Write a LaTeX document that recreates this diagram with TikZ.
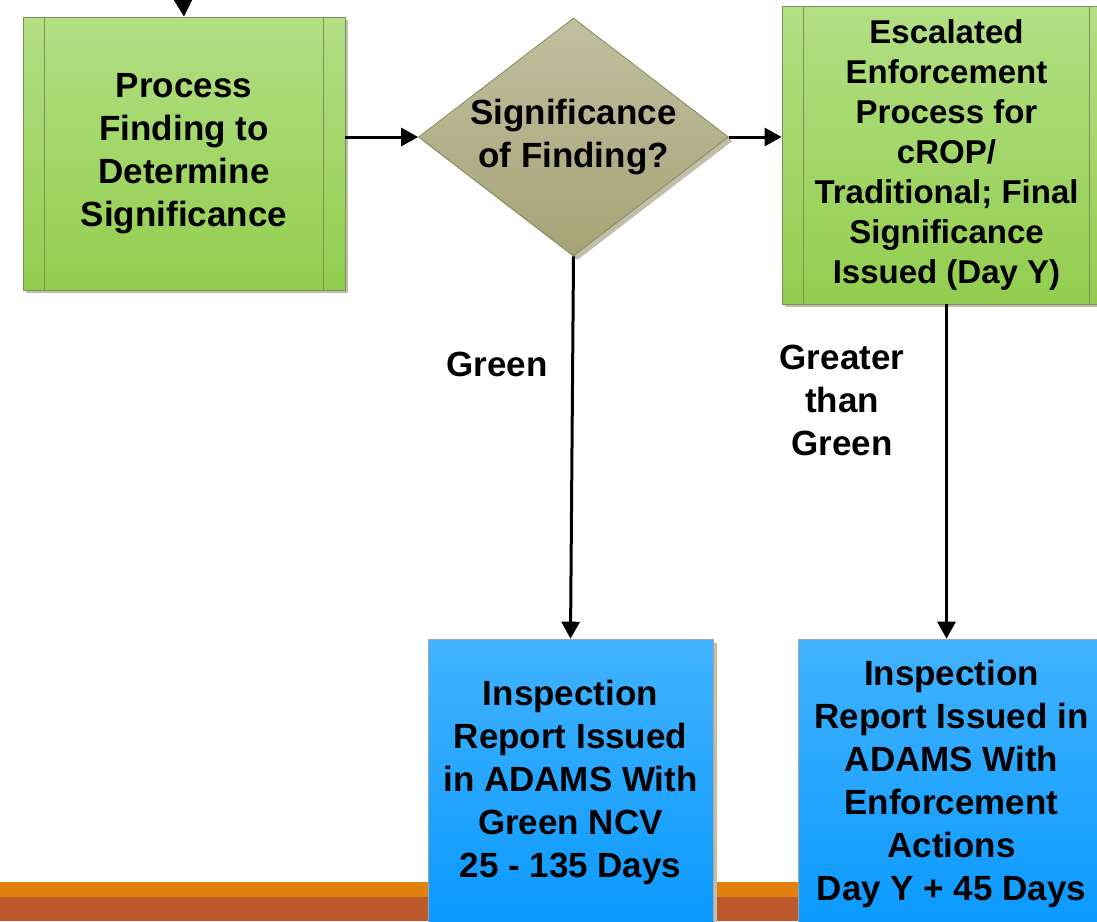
\documentclass[tikz,border=0pt]{standalone}
\usepackage{fontspec}
\setmainfont{Liberation Sans}
\usetikzlibrary{shapes.geometric,arrows.meta,shadows,calc}
\definecolor{gtop}{HTML}{B2DF84}
\definecolor{gbot}{HTML}{92CD4E}
\definecolor{gline}{HTML}{7F8F5A}
\definecolor{shad}{HTML}{C2BEAA}
\definecolor{dtop}{HTML}{C1BF9E}
\definecolor{dbot}{HTML}{A7A378}
\definecolor{btop}{HTML}{42B3FF}
\definecolor{bbot}{HTML}{0A99FF}
\definecolor{orangebar}{HTML}{E3810F}
\definecolor{rustbar}{HTML}{BD5A2B}
\tikzset{
  procbox/.style={rectangle, draw=gline, line width=0.8pt, top color=gtop, bottom color=gbot,
    general shadow={fill=shad, shadow xshift=3pt, shadow yshift=-3pt},
    inner sep=0pt, align=center, font=\fontsize{35}{43}\selectfont\bfseries},
  decbox/.style={diamond, draw=gline, line width=0.8pt, top color=dtop, bottom color=dbot,
    general shadow={fill=shad, shadow xshift=4pt, shadow yshift=-4pt},
    aspect=1.3, inner sep=0pt, align=center, font=\fontsize{35}{43}\selectfont\bfseries},
  outbox/.style={rectangle, draw=gray!70, line width=0.6pt, top color=btop, bottom color=bbot,
    general shadow={fill=shad, shadow xshift=4pt, shadow yshift=-4pt},
    inner sep=0pt, align=center, font=\fontsize{35}{43}\selectfont\bfseries},
  lbl/.style={align=center, font=\fontsize{35}{43}\selectfont\bfseries, inner sep=0pt},
  conn/.style={line width=3pt, -{Triangle[length=17pt,width=18pt]}},
  innerline/.style={draw=gline, line width=0.8pt}
}
\begin{document}
\begin{tikzpicture}[x=1pt,y=-1pt]
\useasboundingbox (0,0) rectangle (1097,921);
\clip (0,0) rectangle (1097,921);
% bottom bars
\fill[orangebar] (0,882) rectangle (1097,897);
\fill[rustbar] (0,897) rectangle (1097,921);

% nodes
\node[procbox, minimum width=322pt, minimum height=273pt] (b1) at (184,153.5)
  {\raisebox{-3pt}{\parbox{300pt}{\centering Process\\Finding to\\Determine\\Significance}}};
\node[decbox, minimum width=310pt, minimum height=238pt] (d) at (573.5,137)
  {Significance\\of Finding?};
\node[procbox, minimum width=329pt, minimum height=298pt, font=\fontsize{33}{40}\selectfont\bfseries] (b3) at (946.5,155)
  {Escalated\\Enforcement\\Process for\\cROP/\\Traditional; Final\\Significance\\Issued (Day Y)};
\node[outbox, minimum width=285pt, minimum height=286pt] (b4) at (570.5,782)
  {Inspection\\Report Issued\\in ADAMS With\\Green NCV\\25 - 135 Days};
\node[outbox, minimum width=307pt, minimum height=289pt] (b5) at (951.5,783.5)
  {Inspection\\Report Issued in\\ADAMS With\\Enforcement\\Actions\\Day Y + 45 Days};

% inner vertical lines of process boxes
\draw[innerline] ($(b1.north west)+(22,0)$) -- ($(b1.south west)+(22,0)$);
\draw[innerline] ($(b1.north east)+(-22,0)$) -- ($(b1.south east)+(-22,0)$);
\draw[innerline] ($(b3.north west)+(22,0)$) -- ($(b3.south west)+(22,0)$);
\draw[innerline] ($(b3.north east)+(-22,0)$) -- ($(b3.south east)+(-22,0)$);

% labels
\node[lbl] (lg) at (497,364) {Green};
\node[lbl] (lgg) at (842,400.5) {Greater\\than\\Green};

% connectors
\coordinate (top) at (183,-5);
\draw[conn] (top) -- (b1.north);
\draw[conn] (d.west -| b1.east) -- (d.west);
\draw[conn] (d.east) -- (d.east -| b3.west);
\draw[conn] (d.south) -- (b4.north);
\draw[conn] (b3.south) -- (b3.south |- b5.north);
\end{tikzpicture}
\end{document}
